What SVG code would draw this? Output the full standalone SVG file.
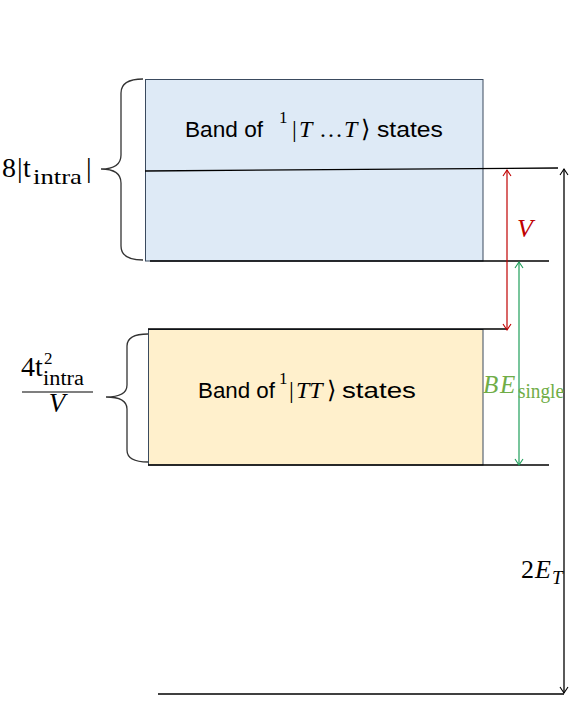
<svg xmlns="http://www.w3.org/2000/svg" width="573" height="716" viewBox="0 0 573 716">
<style>
.sans{font-family:"Liberation Sans","Open Sans",sans-serif;font-size:22px;fill:#000}
.math{font-family:"Liberation Serif","DejaVu Serif",serif;fill:#000}
.it{font-style:italic}
.ln{stroke:#000;stroke-width:1.3;fill:none}
.brace{stroke:#333;stroke-width:1.3;fill:none}
</style>
<defs>
<marker id="ahK" viewBox="0 0 10 10" refX="9" refY="5" markerWidth="10" markerHeight="10" markerUnits="userSpaceOnUse" orient="auto-start-reverse"><path d="M3,1 L9,5 L3,9" fill="none" stroke="#000" stroke-width="1.1"/></marker>
<marker id="ahR" viewBox="0 0 10 10" refX="9" refY="5" markerWidth="10" markerHeight="10" markerUnits="userSpaceOnUse" orient="auto-start-reverse"><path d="M3,1 L9,5 L3,9" fill="none" stroke="#C00000" stroke-width="1.1"/></marker>
<marker id="ahG" viewBox="0 0 10 10" refX="9" refY="5" markerWidth="10" markerHeight="10" markerUnits="userSpaceOnUse" orient="auto-start-reverse"><path d="M3,1 L9,5 L3,9" fill="none" stroke="#1E9E5A" stroke-width="1.1"/></marker>
</defs>

<g id="band-TT-T">
<rect x="145.5" y="79.5" width="337.5" height="181.5" fill="#DEEAF6" stroke="#3A4A5E" stroke-width="1"/>
<text y="137"><tspan class="sans" x="185" textLength="78" lengthAdjust="spacingAndGlyphs">Band of</tspan><tspan class="math" x="279" y="123" font-size="17">1</tspan><tspan class="math" x="292" y="137" font-size="24">|</tspan><tspan class="math it" x="299" font-size="24">T</tspan><tspan class="math" x="319" font-size="24">…</tspan><tspan class="math it" x="344" font-size="24">T</tspan><tspan class="math" x="361" font-size="24">⟩</tspan><tspan class="sans" x="377" textLength="66" lengthAdjust="spacingAndGlyphs">states</tspan></text>
</g>

<g id="band-TT">
<rect x="148.5" y="329.5" width="334.5" height="135.5" fill="#FFF0CC" stroke="#3A4A5E" stroke-width="1"/>
<text y="398"><tspan class="sans" x="198" textLength="77" lengthAdjust="spacingAndGlyphs">Band of</tspan><tspan class="math" x="279" y="384" font-size="17">1</tspan><tspan class="math" x="289" y="398" font-size="24">|</tspan><tspan class="math it" x="296" font-size="24">TT</tspan><tspan class="math" x="327" font-size="24">⟩</tspan><tspan class="sans" x="342" textLength="74" lengthAdjust="spacingAndGlyphs">states</tspan></text>
</g>

<g id="brace-top">
<path class="brace" d="M143,79 Q121,79 121,93 L121,155 Q121,169 101,169 Q121,169 121,183 L121,246 Q121,260 143,260"/>
<text class="math" y="177" font-size="28"><tspan x="2">8</tspan><tspan x="17">|</tspan><tspan x="23">t</tspan><tspan x="33" y="184" font-size="22" textLength="49" lengthAdjust="spacingAndGlyphs">intra</tspan><tspan x="86" y="177">|</tspan></text>
</g>

<g id="brace-bottom">
<path class="brace" d="M148,334 Q127,334 127,346 L127,385 Q127,397 106,397 Q127,397 127,409 L127,450 Q127,462 148,462"/>
<text class="math" y="376" font-size="28"><tspan x="21">4t</tspan><tspan x="44" y="364" font-size="17">2</tspan><tspan x="43" y="385" font-size="20" textLength="41" lengthAdjust="spacingAndGlyphs">intra</tspan></text>
<line x1="22" y1="392" x2="93" y2="392" stroke="#555" stroke-width="1.3"/>
<text class="math it" x="57" y="412" font-size="27" text-anchor="middle">V</text>
</g>

<g id="connectors">
<line class="ln" x1="145" y1="171" x2="558" y2="168"/>
<line class="ln" x1="150" y1="261" x2="549" y2="261"/>
<line class="ln" x1="148" y1="329" x2="507" y2="329"/>
<line class="ln" x1="148" y1="465" x2="549" y2="465"/>
<line class="ln" x1="158" y1="694" x2="564" y2="694"/>
<line x1="507" y1="170" x2="507" y2="330" stroke="#C00000" stroke-width="1.2" marker-start="url(#ahR)" marker-end="url(#ahR)"/>
<line x1="519" y1="262" x2="519" y2="465" stroke="#1E9E5A" stroke-width="1.2" marker-start="url(#ahG)" marker-end="url(#ahG)"/>
<line x1="564" y1="169" x2="564" y2="693" stroke="#000" stroke-width="1.3" marker-start="url(#ahK)" marker-end="url(#ahK)"/>
</g>

<g id="labels">
<text class="math it" x="517" y="237" font-size="26" style="fill:#C00000">V</text>
<text class="math" y="393" font-size="25" style="fill:#70AD47"><tspan class="it" x="483">B</tspan><tspan class="it" x="500">E</tspan><tspan x="518" y="398" font-size="20" textLength="46" lengthAdjust="spacingAndGlyphs">single</tspan></text>
<text class="math" y="578" font-size="26"><tspan x="521">2</tspan><tspan class="it" x="535">E</tspan><tspan class="it" x="552" y="584" font-size="19">T</tspan></text>
</g>
</svg>
